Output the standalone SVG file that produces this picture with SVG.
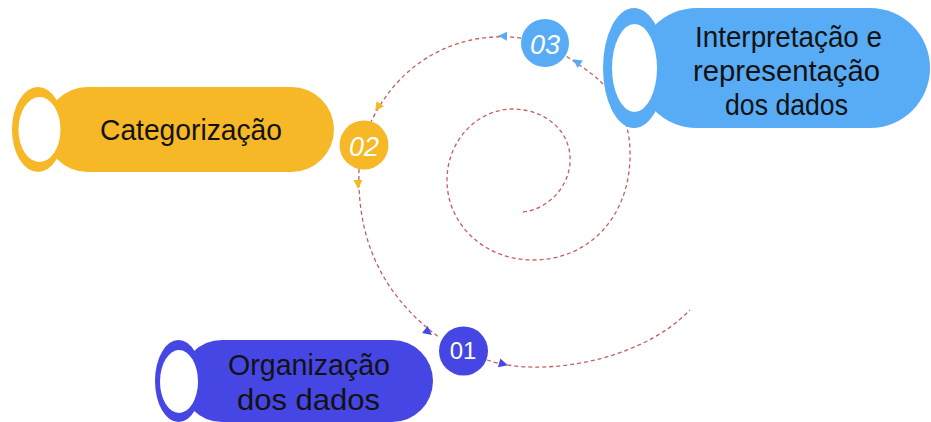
<svg xmlns="http://www.w3.org/2000/svg" width="931" height="422" viewBox="0 0 931 422">
<defs>
<style>
.dash{fill:none;stroke:#c4605f;stroke-width:1.3;stroke-dasharray:4 3}
.lbl{font-family:"Liberation Sans",Arial,sans-serif;fill:#121212;text-anchor:middle}
.num{font-family:"Liberation Sans",Arial,sans-serif;fill:#ffffff;text-anchor:middle}
.hole{fill:#ffffff}
</style>
<path id="tri" d="M5,0 L-4,-4.5 L-4,4.5 Z"/>
</defs>
<rect width="931" height="422" fill="#ffffff"/>
<g id="connectors">
<path class="dash" d="M523,212 C545,210 568,190 570,163 C572,135 550,110 513,109 C478,109 447,140 447,180 C447,225 485,260 533,260 C590,260 632,215 630,150 C629,118 615,95 598,79 C590,72 578,64 566,56"/>
<path class="dash" d="M521,38 C460,30 400,60 371,122"/>
<path class="dash" d="M359,169 C357,230 375,290 440,338"/>
<path class="dash" d="M487,360 C540,378 640,362 690,310"/>
<use href="#tri" fill="#58abf5" transform="translate(577,62) rotate(215)"/>
<use href="#tri" fill="#58abf5" transform="translate(503,36) rotate(182)"/>
<use href="#tri" fill="#f6b826" transform="translate(378,107) rotate(125)"/>
<use href="#tri" fill="#f6b826" transform="translate(358,184) rotate(90)"/>
<use href="#tri" fill="#4646e4" transform="translate(428,332) rotate(38)"/>
<use href="#tri" fill="#4646e4" transform="translate(503,364) rotate(15)"/>
</g>
<g id="node-interpretacao">
<rect x="637" y="8" width="293" height="120" rx="60" fill="#58abf5"/>
<ellipse cx="634" cy="68" rx="31" ry="60" fill="#58abf5"/>
<ellipse class="hole" cx="634.5" cy="68" rx="22.5" ry="44"/>
<text class="lbl" font-size="29" x="788.5" y="47" textLength="187" lengthAdjust="spacingAndGlyphs">Interpretação e</text>
<text class="lbl" font-size="29" x="786.5" y="81" textLength="187" lengthAdjust="spacingAndGlyphs">representação</text>
<text class="lbl" font-size="29" x="786.5" y="115" textLength="123" lengthAdjust="spacingAndGlyphs">dos dados</text>
</g>
<g id="node-categorizacao">
<rect x="45" y="87" width="289" height="85" rx="42.5" fill="#f6b826"/>
<ellipse cx="38" cy="129.5" rx="26" ry="42.5" fill="#f6b826"/>
<ellipse class="hole" cx="39.5" cy="129.5" rx="21" ry="32.5"/>
<text class="lbl" font-size="30" x="191" y="140" textLength="182" lengthAdjust="spacingAndGlyphs">Categorização</text>
</g>
<g id="node-organizacao">
<rect x="181" y="340" width="252" height="82" rx="41" fill="#4646e4"/>
<ellipse cx="178.5" cy="381" rx="23.5" ry="41" fill="#4646e4"/>
<ellipse class="hole" cx="179" cy="381.5" rx="19" ry="31.5"/>
<text class="lbl" font-size="30" x="309" y="375" textLength="162" lengthAdjust="spacingAndGlyphs">Organização</text>
<text class="lbl" font-size="30" x="308.5" y="410" textLength="143" lengthAdjust="spacingAndGlyphs">dos dados</text>
</g>
<g id="circle-03">
<circle cx="545" cy="43" r="24" fill="#58abf5"/>
<text class="num" font-size="27" font-style="italic" x="545" y="54">03</text>
</g>
<g id="circle-02">
<circle cx="364" cy="145" r="24.5" fill="#f6b826"/>
<text class="num" font-size="27" font-style="italic" x="364" y="156">02</text>
</g>
<g id="circle-01">
<circle cx="463.5" cy="351" r="24.5" fill="#4646e4"/>
<text class="num" font-size="24" x="463" y="359">01</text>
</g>
</svg>
